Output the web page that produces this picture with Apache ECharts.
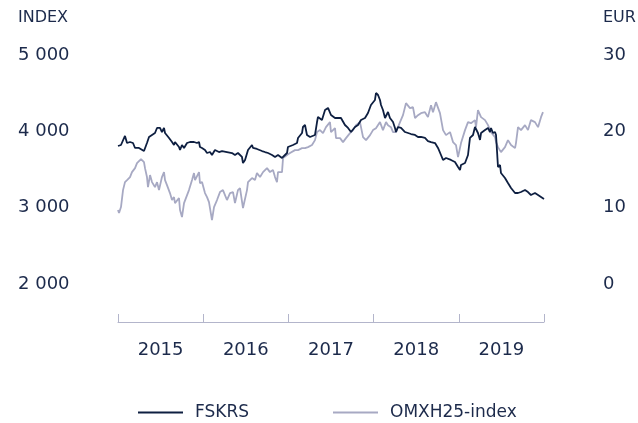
<!DOCTYPE html>
<html>
<head>
<meta charset="utf-8">
<script src="https://cdn.jsdelivr.net/npm/echarts@6/dist/echarts.min.js"></script>
<style>
  html, body { margin: 0; padding: 0; background: #fff; }
  #chart { width: 638px; height: 423px; }
</style>
</head>
<body>
<div id="chart"></div>
<script>
// years on the axis
const yearLabels = ['2015', '2016', '2017', '2018', '2019'];
const indexTicks = [2000, 3000, 4000, 5000];
const eurTicks = [0, 10, 20, 30];

// FSKRS share price, EUR (right axis)
const fskrsYears = [
  2015.000, 2015.035, 2015.082, 2015.106, 2015.141, 2015.176, 2015.200, 2015.246, 2015.305, 2015.340,
  2015.364, 2015.399, 2015.434, 2015.458, 2015.493, 2015.516, 2015.540, 2015.552, 2015.599, 2015.634,
  2015.657, 2015.669, 2015.716, 2015.728, 2015.751, 2015.775, 2015.810, 2015.845, 2015.892, 2015.927,
  2015.951, 2015.962, 2015.986, 2016.021, 2016.045, 2016.080, 2016.103, 2016.138, 2016.185, 2016.221,
  2016.279, 2016.338, 2016.373, 2016.408, 2016.455, 2016.467, 2016.491, 2016.526, 2016.573, 2016.585,
  2016.631, 2016.690, 2016.725, 2016.761, 2016.808, 2016.843, 2016.878, 2016.925, 2016.960, 2016.984,
  2016.995, 2017.054, 2017.101, 2017.113, 2017.160, 2017.171, 2017.195, 2017.218, 2017.254, 2017.312,
  2017.336, 2017.347, 2017.394, 2017.430, 2017.465, 2017.500, 2017.547, 2017.582, 2017.617, 2017.664,
  2017.700, 2017.735, 2017.782, 2017.817, 2017.852, 2017.899, 2017.934, 2017.969, 2018.016, 2018.028,
  2018.052, 2018.075, 2018.087, 2018.110, 2018.134, 2018.146, 2018.169, 2018.192, 2018.228, 2018.251,
  2018.263, 2018.286, 2018.322, 2018.369, 2018.404, 2018.439, 2018.486, 2018.521, 2018.556, 2018.603,
  2018.638, 2018.674, 2018.721, 2018.756, 2018.791, 2018.815, 2018.850, 2018.908, 2018.955, 2018.991,
  2019.014, 2019.026, 2019.073, 2019.108, 2019.131, 2019.167, 2019.190, 2019.202, 2019.225, 2019.249,
  2019.261, 2019.308, 2019.343, 2019.366, 2019.378, 2019.401, 2019.425, 2019.437, 2019.460, 2019.484,
  2019.495, 2019.542, 2019.577, 2019.613, 2019.660, 2019.695, 2019.730, 2019.777, 2019.812, 2019.847,
  2019.894, 2019.930, 2019.965, 2020.000
];
const fskrsValues = [
  18.08, 18.21, 19.39, 18.47, 18.60, 18.47, 17.82, 17.82, 17.42, 18.47,
  19.26, 19.52, 19.78, 20.44, 20.44, 19.91, 20.44, 19.78, 19.13, 18.60,
  18.21, 18.60, 17.95, 17.56, 18.21, 17.82, 18.47, 18.60, 18.60, 18.47,
  18.60, 17.95, 17.82, 17.56, 17.16, 17.29, 16.90, 17.56, 17.29, 17.42,
  17.29, 17.16, 16.90, 17.16, 16.64, 15.85, 16.25, 17.56, 18.21, 17.82,
  17.69, 17.42, 17.29, 17.16, 16.90, 16.64, 16.90, 16.51, 16.90, 17.16,
  17.95, 18.21, 18.47, 19.13, 19.78, 20.57, 20.83, 19.52, 19.26, 19.52,
  21.22, 21.88, 21.49, 22.80, 23.06, 22.14, 21.75, 21.75, 21.75, 20.83,
  20.44, 19.91, 20.57, 20.83, 21.49, 21.75, 22.40, 23.45, 24.11, 25.02,
  24.76, 24.11, 23.45, 22.80, 21.75, 21.88, 22.53, 21.75, 21.22, 20.44,
  19.91, 20.57, 20.44, 19.91, 19.78, 19.65, 19.52, 19.26, 19.26, 19.13,
  18.73, 18.60, 18.47, 17.82, 16.90, 16.25, 16.51, 16.25, 15.98, 15.33,
  14.94, 15.59, 15.85, 16.90, 19.13, 19.52, 20.57, 20.44, 19.78, 18.87,
  19.78, 20.18, 20.44, 19.91, 20.44, 19.78, 19.91, 19.52, 15.33, 15.59,
  14.54, 13.89, 13.23, 12.58, 11.92, 11.92, 12.05, 12.32, 12.05, 11.66,
  11.92, 11.66, 11.40, 11.14
];

// OMXH25 index points (left axis)
const omxYears = [
  2015.000, 2015.012, 2015.035, 2015.059, 2015.082, 2015.106, 2015.141, 2015.164, 2015.200, 2015.223,
  2015.246, 2015.270, 2015.305, 2015.317, 2015.340, 2015.352, 2015.376, 2015.399, 2015.434, 2015.458,
  2015.481, 2015.516, 2015.540, 2015.552, 2015.575, 2015.610, 2015.634, 2015.657, 2015.669, 2015.716,
  2015.728, 2015.751, 2015.775, 2015.786, 2015.833, 2015.869, 2015.892, 2015.904, 2015.951, 2015.962,
  2015.986, 2016.021, 2016.045, 2016.068, 2016.103, 2016.127, 2016.162, 2016.197, 2016.232, 2016.279,
  2016.315, 2016.350, 2016.373, 2016.408, 2016.432, 2016.467, 2016.514, 2016.526, 2016.573, 2016.608,
  2016.631, 2016.667, 2016.702, 2016.749, 2016.784, 2016.819, 2016.843, 2016.866, 2016.878, 2016.925,
  2016.937, 2016.984, 2017.019, 2017.077, 2017.113, 2017.160, 2017.195, 2017.230, 2017.277, 2017.312,
  2017.336, 2017.371, 2017.406, 2017.441, 2017.488, 2017.500, 2017.547, 2017.559, 2017.606, 2017.641,
  2017.664, 2017.676, 2017.723, 2017.758, 2017.793, 2017.840, 2017.876, 2017.911, 2017.958, 2017.993,
  2018.028, 2018.075, 2018.110, 2018.146, 2018.169, 2018.204, 2018.228, 2018.263, 2018.310, 2018.345,
  2018.380, 2018.427, 2018.462, 2018.486, 2018.521, 2018.556, 2018.603, 2018.638, 2018.674, 2018.697,
  2018.732, 2018.779, 2018.815, 2018.850, 2018.897, 2018.932, 2018.967, 2018.991, 2019.026, 2019.073,
  2019.108, 2019.143, 2019.190, 2019.202, 2019.225, 2019.261, 2019.308, 2019.343, 2019.378, 2019.425,
  2019.437, 2019.460, 2019.495, 2019.542, 2019.577, 2019.613, 2019.660, 2019.671, 2019.695, 2019.730,
  2019.777, 2019.812, 2019.847, 2019.894, 2019.930, 2019.965, 2019.988
];
const omxValues = [
  2969, 2929, 3008, 3230, 3335, 3361, 3401, 3466, 3518, 3584,
  3558, 3636, 3597, 3518, 3401, 3270, 3427, 3335, 3270, 3335,
  3230, 3401, 3466, 3361, 3296, 3191, 3100, 3139, 3060, 3126,
  2969, 2877, 3060, 3073, 3230, 3361, 3453, 3361, 3466, 3322,
  3335, 3191, 3139, 3073, 2838, 3008, 3100, 3204, 3230, 3100,
  3191, 3204, 3060, 3230, 3257, 2995, 3230, 3335, 3388, 3361,
  3453, 3401, 3466, 3518, 3466, 3492, 3401, 3335, 3466, 3466,
  3649, 3689, 3715, 3754, 3754, 3780, 3780, 3793, 3820, 3885,
  3990, 4016, 3977, 4055, 4121, 3990, 4042, 3911, 3911, 3859,
  3846, 3911, 3977, 4016, 4081, 4121, 3924, 3885, 3950, 4016,
  4042, 4121, 4016, 4121, 4081, 4055, 3990, 3990, 4121, 4212,
  4369, 4304, 4317, 4173, 4212, 4238, 4251, 4186, 4343, 4251,
  4382, 4238, 4016, 3950, 3990, 3859, 3820, 3662, 3846, 4016,
  4121, 4107, 4147, 4055, 4278, 4186, 4147, 4081, 3990, 3924,
  3859, 3793, 3728, 3793, 3885, 3820, 3780, 3846, 4055, 4016,
  4081, 4016, 4147, 4121, 4055, 4186, 4251
];

const textColor = '#1c2a4b';
const darkLine = '#0e1f41';
const greyLine = '#a7a9c3';
const font = 'DejaVu Sans';

const chart = echarts.init(document.getElementById('chart'));

const fskrs = fskrsYears.map((y, i) => [y, fskrsValues[i]]);
const omx = omxYears.map((y, i) => [y, omxValues[i]]);

const spaced = (v) => String(v).replace(/\B(?=(\d{3})+(?!\d))/g, ' ');

const legendItem = (name, left) => ({
  data: [{ name, icon: 'rect' }],
  left,
  top: 399,
  itemWidth: 45,
  itemHeight: 2,
  textStyle: { color: textColor, fontSize: 17, fontFamily: font, padding: [0, 0, 0, 7] },
});

chart.setOption({
  animation: false,
  grid: { left: 118, right: 94, top: 55, bottom: 139 },
  graphic: [
    { type: 'text', left: 18, top: 10, style: { text: 'INDEX', fill: textColor, font: `16px "${font}"` } },
    { type: 'text', left: 603, top: 10, style: { text: 'EUR', fill: textColor, font: `16px "${font}"` } },
  ],
  legend: [legendItem('FSKRS', 133), legendItem('OMXH25-index', 328)],
  xAxis: [
    {
      type: 'category',
      data: yearLabels,
      boundaryGap: true,
      offset: 38,
      axisLine: { show: true, onZero: false, lineStyle: { color: '#b3b5cb', width: 1 } },
      axisTick: { show: true, inside: true, length: 8, interval: 0, lineStyle: { color: '#b3b5cb', width: 1 } },
      axisLabel: { color: textColor, fontSize: 18, fontFamily: font, margin: 19 },
      splitLine: { show: false },
    },
    { type: 'value', min: 2015, max: 2020, show: false },
  ],
  yAxis: [
    {
      type: 'value', min: 2000, max: 5000, interval: 1000, position: 'left',
      axisLine: { show: false }, axisTick: { show: false }, splitLine: { show: false },
      axisLabel: {
        color: textColor, fontSize: 18, fontFamily: font, align: 'left', margin: 100,
        formatter: (v) => (indexTicks.includes(v) ? spaced(v) : ''),
      },
    },
    {
      type: 'value', min: 0, max: 30, interval: 10, position: 'right',
      axisLine: { show: false }, axisTick: { show: false }, splitLine: { show: false },
      axisLabel: {
        color: textColor, fontSize: 18, fontFamily: font, align: 'left', margin: 59,
        formatter: (v) => (eurTicks.includes(v) ? String(v) : ''),
      },
    },
  ],
  series: [
    {
      name: 'OMXH25-index', type: 'line', xAxisIndex: 1, yAxisIndex: 0,
      data: omx, symbol: 'none', lineStyle: { color: greyLine, width: 1.8 },
      itemStyle: { color: greyLine },
    },
    {
      name: 'FSKRS', type: 'line', xAxisIndex: 1, yAxisIndex: 1,
      data: fskrs, symbol: 'none', lineStyle: { color: darkLine, width: 1.8 },
      itemStyle: { color: darkLine },
    },
  ],
});
</script>
</body>
</html>
